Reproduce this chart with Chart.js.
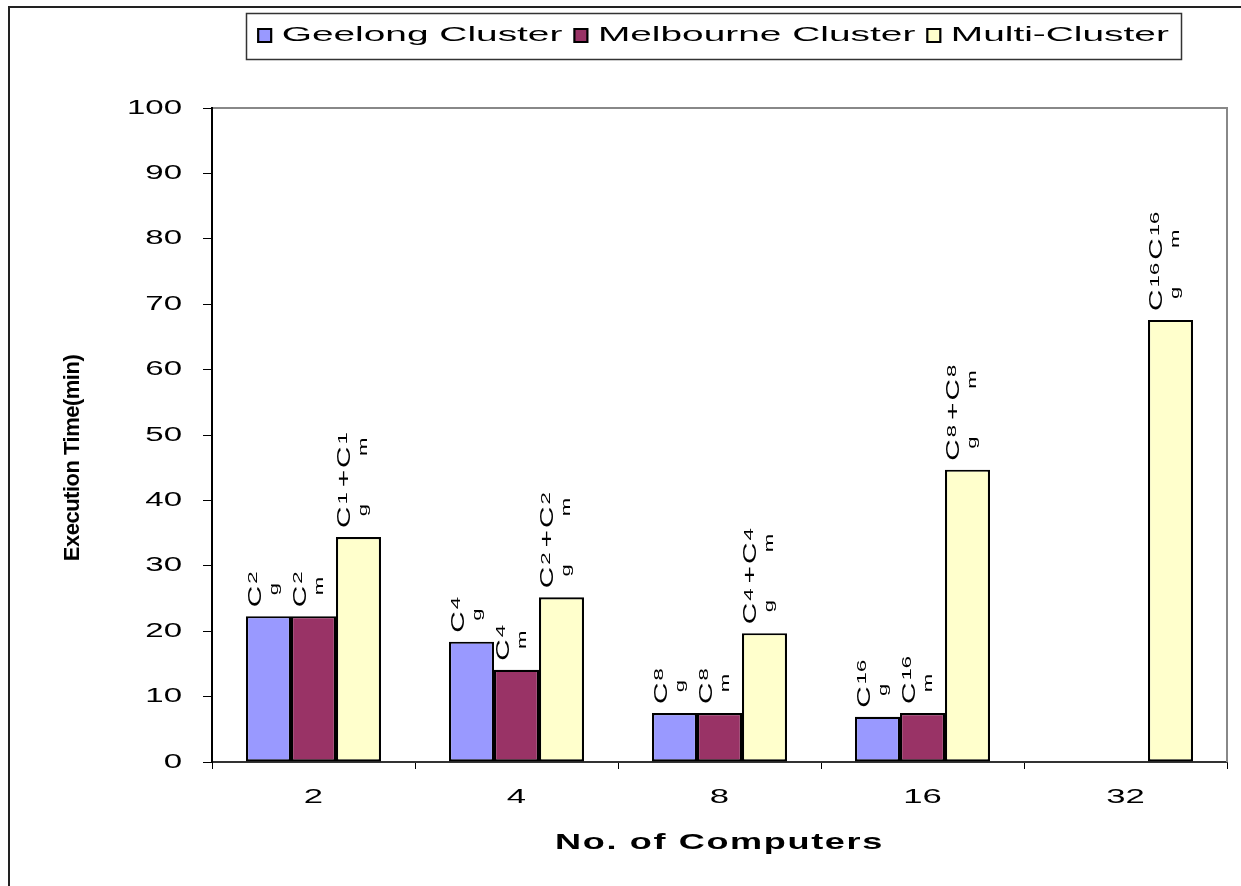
<!DOCTYPE html>
<html>
<head>
<meta charset="utf-8">
<script src="https://cdn.jsdelivr.net/npm/chart.js@4.4.1/dist/chart.umd.min.js"></script>
<style>
html,body{margin:0;padding:0;background:#fff;}
canvas{display:block;}
</style>
</head>
<body>
<canvas id="c" width="1241" height="886"></canvas>
<script>
// ---- data ----
const categories = ['2', '4', '8', '16', '32'];
const seriesNames = ['Geelong Cluster', 'Melbourne Cluster', 'Multi-Cluster'];
const geelongTimes = [22.3, 18.4, 7.5, 6.9, null];
const melbourneTimes = [22.3, 14.1, 7.5, 7.5, null];
const multiTimes = [34.4, 25.2, 19.7, 44.7, 67.6];
const yMin = 0, yMax = 100, yStep = 10;
const yTitle = 'Execution Time(min)';
const xTitle = 'No. of Computers';
// bar annotations: each term is [superscript, subscript] attached to "C"
const geelongTags = [[['2', 'g']], [['4', 'g']], [['8', 'g']], [['16', 'g']], null];
const melbourneTags = [[['2', 'm']], [['4', 'm']], [['8', 'm']], [['16', 'm']], null];
const multiTags = [[['1', 'g'], ['1', 'm']], [['2', 'g'], ['2', 'm']], [['4', 'g'], ['4', 'm']], [['8', 'g'], ['8', 'm']], [['16', 'g'], ['16', 'm']]];
const singleJoins = ['', '', '', '', ''];
const multiJoins = ['+', '+', '+', '+', ''];

const FAMILY = '"Liberation Sans", Arial, Helvetica, sans-serif';
const tagSets = [geelongTags, melbourneTags, multiTags];
const joinSets = [singleJoins, singleJoins, multiJoins];

// ---- wide-glyph text rendering (the reference uses horizontally stretched type) ----
let forceStretch = null;
function stretchFor(text) {
  if (forceStretch !== null) return forceStretch;
  if (seriesNames.includes(text)) return 1.85;
  if (text === xTitle) return 1.64;
  if (text === yTitle) return 1;
  return 1.65;
}
const canvas = document.getElementById('c');
const ctx0 = canvas.getContext('2d');
const nativeFill = ctx0.fillText;
const nativeMeasure = ctx0.measureText;
ctx0.fillText = function (text, x, y, maxWidth) {
  const s = stretchFor(String(text));
  if (s === 1) {
    return maxWidth === undefined ? nativeFill.call(this, text, x, y) : nativeFill.call(this, text, x, y, maxWidth);
  }
  this.save();
  this.translate(x, y);
  this.scale(s, 1);
  nativeFill.call(this, text, 0, 0);
  this.restore();
};
ctx0.measureText = function (text) {
  const m = nativeMeasure.call(this, text);
  const s = stretchFor(String(text));
  if (s === 1) return m;
  return {
    width: m.width * s,
    actualBoundingBoxLeft: m.actualBoundingBoxLeft * s,
    actualBoundingBoxRight: m.actualBoundingBoxRight * s,
    actualBoundingBoxAscent: m.actualBoundingBoxAscent,
    actualBoundingBoxDescent: m.actualBoundingBoxDescent,
    fontBoundingBoxAscent: m.fontBoundingBoxAscent,
    fontBoundingBoxDescent: m.fontBoundingBoxDescent
  };
};

function drawTag(ctx, terms, join, left, bottom) {
  const SX = 1.7;
  const BIG = '17.5px ' + FAMILY;
  const SMALL = '13px ' + FAMILY;
  const cap = 12.5;
  forceStretch = 1;
  ctx.save();
  ctx.translate(left + cap, bottom);
  ctx.rotate(-Math.PI / 2);
  ctx.scale(SX, 1);
  ctx.fillStyle = '#000';
  ctx.textAlign = 'left';
  ctx.textBaseline = 'alphabetic';
  let pos = 0;
  terms.forEach((t, k) => {
    if (k > 0) {
      if (join) {
        ctx.font = BIG;
        pos += 5 / SX;
        ctx.fillText(join, pos, 0);
        pos += ctx.measureText(join).width + 2 / SX;
      } else {
        pos += 3 / SX;
      }
    }
    ctx.font = BIG;
    ctx.fillText('C', pos, 0);
    const cw = ctx.measureText('C').width;
    ctx.font = SMALL;
    const supX = pos + cw + 2 / SX;
    ctx.fillText(t[0], supX, -3.5);
    const supEnd = supX + ctx.measureText(t[0]).width;
    const subX = pos + cw * 0.55;
    ctx.fillText(t[1], subX, 17);
    const subEnd = subX + ctx.measureText(t[1]).width;
    pos = Math.max(supEnd, subEnd);
  });
  ctx.restore();
  forceStretch = null;
}

function wrapTitle(scale, spacing, dx, dy) {
  if (scale._titleWrapped) return;
  const orig = scale.drawTitle;
  scale.drawTitle = function () {
    const c = this.ctx;
    c.save();
    c.letterSpacing = spacing;
    c.translate(dx, dy);
    orig.apply(this, arguments);
    c.restore();
  };
  scale._titleWrapped = true;
}

const layoutPlugin = {
  id: 'legendPlace',
  beforeLayout(chart) {
    const lg = chart.legend;
    if (lg && !lg._fitWrapped) {
      const f = lg.fit;
      lg.fit = function () { f.apply(this, arguments); this.height = 95; };
      lg._fitWrapped = true;
    }
  },
  afterLayout(chart) {
    const lg = chart.legend;
    if (lg) { lg.left = 246; lg.right = 1181; lg.width = 935; }
  }
};

const framePlugin = {
  id: 'frames',
  beforeDraw(chart) {
    const ctx = chart.ctx;
    ctx.save();
    ctx.strokeStyle = '#222';
    ctx.lineWidth = 2;
    ctx.beginPath();
    ctx.moveTo(9, 886);
    ctx.lineTo(9, 7);
    ctx.lineTo(1241, 7);
    ctx.stroke();
    ctx.restore();
  },
  afterDraw(chart) {
    const ctx = chart.ctx;
    const a = chart.chartArea;
    ctx.save();
    ctx.strokeStyle = '#888';
    ctx.lineWidth = 2;
    ctx.beginPath();
    ctx.moveTo(a.left + 1, a.top);
    ctx.lineTo(a.right, a.top);
    ctx.lineTo(a.right, a.bottom);
    ctx.stroke();
    const lg = chart.legend;
    ctx.strokeStyle = '#333';
    ctx.lineWidth = 1.5;
    ctx.strokeRect(lg.left + 0.5, lg.top + 0.5, lg.right - lg.left, 46);
    ctx.restore();
  }
};

const tagPlugin = {
  id: 'barTags',
  afterDatasetsDraw(chart) {
    const ctx = chart.ctx;
    ctx.save();
    chart.data.datasets.forEach((ds, di) => {
      const meta = chart.getDatasetMeta(di);
      meta.data.forEach((bar, i) => {
        const tag = tagSets[di][i];
        if (!tag || ds.data[i] == null) return;
        const p = bar.getProps(['x', 'y', 'width'], true);
        drawTag(ctx, tag, joinSets[di][i], p.x - p.width / 2 + 2, p.y - 9);
      });
    });
    ctx.restore();
  }
};

new Chart(canvas, {
  type: 'bar',
  data: {
    labels: categories,
    datasets: [
      { label: seriesNames[0], data: geelongTimes, backgroundColor: '#9999FF' },
      { label: seriesNames[1], data: melbourneTimes, backgroundColor: '#993366' },
      { label: seriesNames[2], data: multiTimes, backgroundColor: '#FFFFCC' }
    ].map(d => Object.assign(d, {
      borderColor: '#000', borderWidth: 2.2, borderSkipped: false,
      categoryPercentage: 0.665, barPercentage: 1.0
    }))
  },
  options: {
    responsive: false,
    animation: false,
    events: [],
    layout: { padding: { top: 13, left: 10, right: 14, bottom: 0 } },
    font: { family: FAMILY },
    plugins: {
      tooltip: { enabled: false },
      legend: {
        position: 'top',
        align: 'center',
        labels: {
          boxWidth: 13, boxHeight: 13, padding: 12,
          color: '#000',
          font: { family: FAMILY, size: 21 }
        }
      }
    },
    scales: {
      x: {
        grid: { offset: true, drawOnChartArea: false, drawTicks: true, tickLength: 7, color: '#000', lineWidth: 1 },
        border: { color: '#333', width: 2 },
        ticks: { color: '#000', padding: 16, font: { family: FAMILY, size: 21 } },
        title: { display: true, text: xTitle, color: '#000', padding: { top: 0, bottom: 30 }, font: { family: FAMILY, size: 22, weight: 'bold' } },
        afterFit(scale) { scale.height = 124; wrapTitle(scale, '1px', 0, 0); }
      },
      y: {
        min: yMin, max: yMax,
        ticks: { stepSize: yStep, color: '#000', padding: 21, font: { family: FAMILY, size: 20 } },
        grid: { drawOnChartArea: false, drawTicks: true, tickLength: 9, color: '#000', lineWidth: 1 },
        border: { color: '#000', width: 2 },
        title: { display: true, text: yTitle, color: '#000', padding: { top: 50, bottom: 0 }, font: { family: FAMILY, size: 22, weight: 'bold' } },
        afterFit(scale) { scale.width = 202; wrapTitle(scale, '-0.5px', 0, 23); }
      }
    }
  },
  plugins: [layoutPlugin, framePlugin, tagPlugin]
});
</script>
</body>
</html>
